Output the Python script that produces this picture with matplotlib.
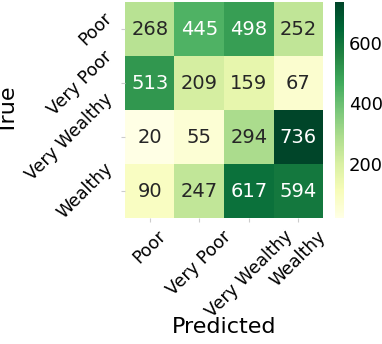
import numpy as np
import matplotlib
matplotlib.use("Agg")
import matplotlib.pyplot as plt
import seaborn as sns

labels = ["Poor", "Very Poor", "Very Wealthy", "Wealthy"]
row_poor = [268, 445, 498, 252]
row_very_poor = [513, 209, 159, 67]
row_very_wealthy = [20, 55, 294, 736]
row_wealthy = [90, 247, 617, 594]

cm = np.array([row_poor, row_very_poor, row_very_wealthy, row_wealthy])

fig = plt.figure(figsize=(3.82, 3.44), dpi=100)
ax = fig.add_axes([0.327, 0.366, 0.519, 0.628])
cax = fig.add_axes([0.877, 0.366, 0.024, 0.628])

sns.heatmap(cm, annot=True, fmt="d", cmap="YlGn", ax=ax, cbar_ax=cax,
            xticklabels=labels, yticklabels=labels,
            annot_kws={"fontsize": 14})

ax.set_xlabel("Predicted", fontsize=16)
ax.set_ylabel("True", fontsize=16)
ax.xaxis.set_label_coords(0.5, -0.46)
ax.yaxis.set_label_coords(-0.535, 0.5)
ax.set_xticklabels(labels, rotation=45, fontsize=12.5)
ax.set_yticklabels(labels, rotation=45, fontsize=12.5)
ax.tick_params(color="#cccccc", length=3)
cax.tick_params(labelsize=13, length=0)
cax.set_yticks([200, 400, 600])

fig.savefig("out.png", dpi=100)
